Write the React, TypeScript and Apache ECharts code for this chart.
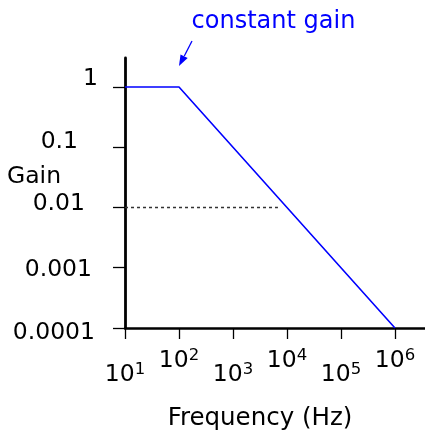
import React, { useEffect, useRef } from 'react';
import * as echarts from 'echarts';

const frequencies = [10, 100, 1000000];
const gains = [1, 1, 0.0001];
const refFrequencies = [10, 6800];
const refGains = [0.01, 0.01];
const xTickValues = [10, 100, 1000, 10000, 100000, 1000000];
const yTickValues = [0.0001, 0.001, 0.01, 0.1, 1];
const yTickLabels = ['0.0001', '0.001', '0.01', '0.1', '1'];
const xAxisTitle = 'Frequency (Hz)';
const yAxisTitle = 'Gain';
const annotation = 'constant gain';

const FONT = 'DejaVu Sans';
const BLUE = '#0000ff';

export default function App() {
  const ref = useRef<HTMLDivElement>(null);
  useEffect(() => {
    if (!ref.current) return;
    const chart = echarts.init(ref.current, undefined, { renderer: 'svg' });
    const yIndex = (v: number) =>
      yTickValues.findIndex((t) => Math.abs(Math.log10(t) - Math.log10(v)) < 1e-6);
    chart.setOption({
      animation: false,
      grid: { left: 125, right: 0, top: 58, bottom: 105, outerBoundsMode: 'none' },
      xAxis: {
        type: 'log',
        min: 10,
        max: Math.pow(10, 6.556),
        axisLine: { show: true, lineStyle: { color: '#000', width: 2.6 } },
        axisTick: { show: true, length: 11, customValues: xTickValues, lineStyle: { color: '#000', width: 1.3 } },
        minorTick: { show: false },
        splitLine: { show: false },
        axisLabel: {
          customValues: xTickValues,
          margin: 18,
          color: '#000',
          fontFamily: FONT,
          formatter: (v: number) => {
            const e = Math.round(Math.log10(v));
            const base = `{b|10}{s|${e}}`;
            return e % 2 === 1 ? `{g| }\n${base}` : base;
          },
          rich: {
            b: { fontSize: 23.5, lineHeight: 26, fontFamily: FONT, color: '#000' },
            s: { fontSize: 16.5, lineHeight: 14, verticalAlign: 'top', fontFamily: FONT, color: '#000' },
            g: { fontSize: 1, lineHeight: 14 },
          },
        },
      },
      yAxis: {
        type: 'log',
        min: 0.0001,
        max: Math.pow(10, 0.481),
        axisLine: { show: true, lineStyle: { color: '#000', width: 2.8 } },
        axisTick: { show: true, length: 12, customValues: yTickValues, lineStyle: { color: '#000', width: 1.3 } },
        minorTick: { show: false },
        splitLine: { show: false },
        axisLabel: {
          customValues: yTickValues,
          margin: 27,
          color: '#000',
          fontFamily: FONT,
          fontSize: 23,
          formatter: (v: number) => {
            const i = yIndex(v);
            return i < 0 ? '' : `{y${i}|${yTickLabels[i]}}`;
          },
          rich: {
            y0: { fontSize: 23.5, fontFamily: FONT, color: '#000', padding: [6, 3, 0, 0] },
            y1: { fontSize: 23.5, fontFamily: FONT, color: '#000', padding: [0, 6, 0, 0] },
            y2: { fontSize: 23.5, fontFamily: FONT, color: '#000', padding: [0, 13, 10, 0] },
            y3: { fontSize: 23.5, fontFamily: FONT, color: '#000', padding: [0, 20, 14, 0] },
            y4: { fontSize: 23.5, fontFamily: FONT, color: '#000', padding: [0, 0, 20, 0] },
          },
        },
      },
      series: [
        {
          name: 'gain',
          type: 'line',
          data: frequencies.map((f, i) => [f, gains[i]]),
          showSymbol: false,
          symbol: 'none',
          lineStyle: { color: BLUE, width: 1.6 },
          z: 3,
        },
        {
          name: 'reference',
          type: 'line',
          data: refFrequencies.map((f, i) => [f, refGains[i]]),
          showSymbol: false,
          symbol: 'none',
          lineStyle: { color: '#333', width: 1.4, type: [3, 3] },
          z: 2,
        },
      ],
      graphic: [
        {
          type: 'text',
          left: 7,
          top: 163,
          style: { text: yAxisTitle, fontSize: 23.5, fontFamily: FONT, fill: '#000' },
        },
        {
          type: 'text',
          x: 260,
          y: 416,
          style: { text: xAxisTitle, fontSize: 24.5, fontFamily: FONT, fill: '#000', align: 'center', verticalAlign: 'middle' },
        },
        {
          type: 'text',
          x: 273.5,
          y: 20,
          style: { text: annotation, fontSize: 24, fontFamily: FONT, fill: BLUE, align: 'center', verticalAlign: 'middle' },
        },
        {
          type: 'line',
          shape: { x1: 192, y1: 41, x2: 184.3, y2: 56 },
          style: { stroke: BLUE, lineWidth: 1.3 },
        },
        {
          type: 'polygon',
          shape: { points: [[179, 66], [187.7, 58], [180.5, 54.4]] },
          style: { fill: BLUE },
        },
      ],
    });
    return () => chart.dispose();
  }, []);
  return <div ref={ref} style={{ position: 'fixed', left: 0, top: 0, width: 425, height: 433 }} />;
}
